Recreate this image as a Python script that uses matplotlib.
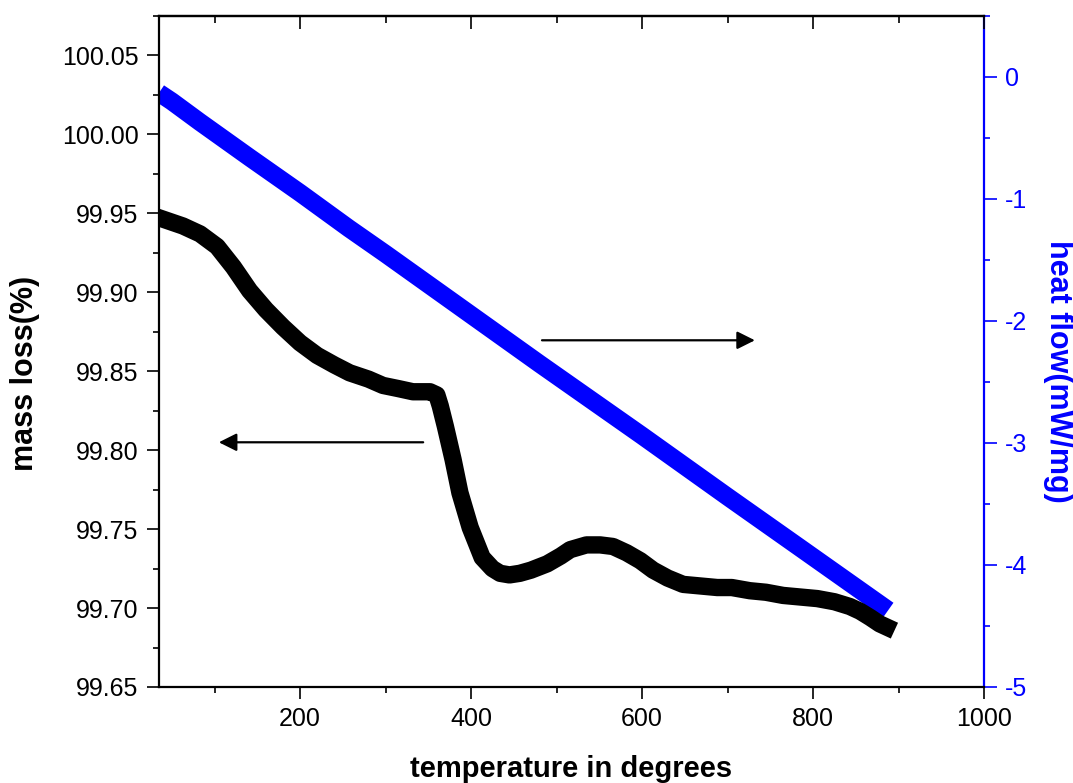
import numpy as np
import matplotlib.pyplot as plt
from matplotlib.ticker import MultipleLocator, FormatStrFormatter

plt.rcParams['font.family'] = ['Liberation Sans', 'DejaVu Sans']
plt.rcParams['axes.unicode_minus'] = False

# TGA mass loss curve (left axis)
temp_mass = [36, 63, 83, 103, 122, 141, 160, 180, 200, 220, 240, 258, 280, 297,
             315, 332, 352, 360, 364, 370, 379, 387, 399, 413, 425, 434, 445,
             457, 470, 489, 505, 516, 535, 551, 566, 582, 598, 613, 630, 648,
             668, 688, 705, 726, 745, 765, 785, 805, 825, 843, 855, 867, 878, 886]
mass_loss = [99.947, 99.942, 99.937, 99.929, 99.916, 99.901, 99.889, 99.878,
             99.868, 99.860, 99.854, 99.849, 99.845, 99.841, 99.839, 99.837,
             99.837, 99.835, 99.828, 99.815, 99.794, 99.773, 99.751, 99.732,
             99.725, 99.722, 99.721, 99.722, 99.724, 99.728, 99.733, 99.737,
             99.740, 99.740, 99.739, 99.735, 99.730, 99.724, 99.719, 99.715,
             99.714, 99.713, 99.713, 99.711, 99.710, 99.708, 99.707, 99.706,
             99.704, 99.701, 99.698, 99.694, 99.690, 99.688]

# DSC heat flow (right axis)
temp_heat = [35, 50, 83, 141, 200, 257, 300, 400, 480, 600, 700, 785, 888]
heat_flow = [-0.13, -0.20, -0.37, -0.66, -0.95, -1.24, -1.45, -1.95, -2.35,
             -2.94, -3.44, -3.86, -4.37]

blue = '#0000ff'

fig = plt.figure(figsize=(10.73, 7.83), dpi=100)
ax = fig.add_axes([159 / 1073, 1 - 687 / 783, 825 / 1073, 671 / 783])
ax2 = ax.twinx()

ax2.plot(temp_heat, heat_flow, color=blue, lw=13, solid_capstyle='butt')
ax.plot(temp_mass, mass_loss, color='k', lw=12.5, solid_joinstyle='round',
        solid_capstyle='projecting')

# mass curve drawn above the heat flow curve
ax.set_zorder(ax2.get_zorder() + 1)
ax.patch.set_visible(False)

ax.set_xlim(35, 1000)
ax.set_ylim(99.65, 100.075)
ax2.set_ylim(-5, 0.5)

ax.xaxis.set_major_locator(MultipleLocator(200))
ax.xaxis.set_minor_locator(MultipleLocator(100))
ax.yaxis.set_major_locator(MultipleLocator(0.05))
ax.yaxis.set_minor_locator(MultipleLocator(0.025))
ax.yaxis.set_major_formatter(FormatStrFormatter('%.2f'))
ax2.yaxis.set_major_locator(MultipleLocator(1))
ax2.yaxis.set_minor_locator(MultipleLocator(0.5))

for s in ['left', 'bottom', 'top']:
    ax.spines[s].set_linewidth(1.6)
ax.spines['right'].set_visible(False)
for s in ['left', 'bottom', 'top']:
    ax2.spines[s].set_visible(False)
ax2.spines['right'].set_color(blue)
ax2.spines['right'].set_linewidth(1.6)

ax.tick_params(axis='both', which='major', direction='out', length=8.6, width=1.2,
               labelsize=18, pad=6)
ax.tick_params(axis='both', which='minor', direction='out', length=4.3, width=1.2)
ax.tick_params(axis='y', right=False)
ax.tick_params(axis='x', top=False)

top = ax.secondary_xaxis('top')
top.xaxis.set_major_locator(MultipleLocator(200))
top.xaxis.set_minor_locator(MultipleLocator(100))
top.tick_params(axis='x', which='major', direction='in', length=9, width=1.2,
                labeltop=False)
top.tick_params(axis='x', which='minor', direction='in', length=5, width=1.2)
top.spines['top'].set_linewidth(1.6)

ax2.tick_params(axis='y', which='major', direction='out', length=9, width=1.2,
                colors=blue, labelsize=18, pad=6)
ax2.tick_params(axis='y', which='minor', direction='out', length=4.3, width=1.2,
                colors=blue)

ax.set_xlabel('temperature in degrees', fontsize=21, fontweight='bold')
ax.set_ylabel('mass loss(%)', fontsize=22, fontweight='bold')
ax2.set_ylabel('heat flow(mW/mg)', fontsize=22, fontweight='bold', color=blue,
               rotation=270, va='bottom')
ax.xaxis.set_label_coords(0.5, -0.102)
ax.yaxis.set_label_coords(-0.144, 0.467)
ax2.yaxis.set_label_coords(1.071, 0.471)

# direction arrows
ax.annotate('', xy=(105, 99.805), xytext=(344, 99.805),
            arrowprops=dict(arrowstyle='-|>', color='k', lw=1.6,
                            mutation_scale=27, shrinkA=0, shrinkB=0))
ax.annotate('', xy=(732, 99.8696), xytext=(483, 99.8696),
            arrowprops=dict(arrowstyle='-|>', color='k', lw=1.6,
                            mutation_scale=27, shrinkA=0, shrinkB=0))

fig.savefig('out.png', dpi=100)
